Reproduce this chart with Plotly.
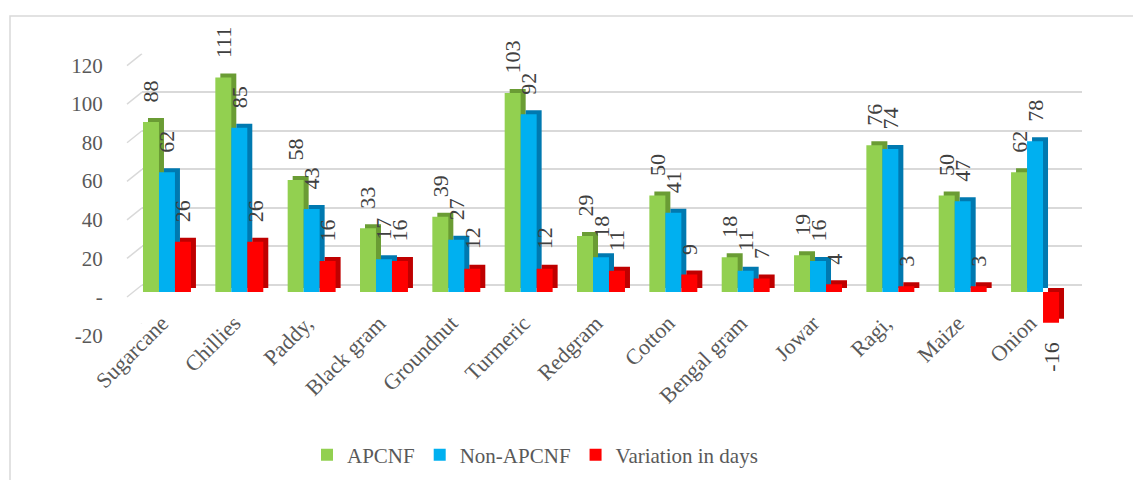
import plotly.graph_objects as go

# ---------------- data ----------------
categories = ["Sugarcane", "Chillies", "Paddy,", "Black gram", "Groundnut", "Turmeric",
              "Redgram", "Cotton", "Bengal gram", "Jowar", "Ragi,", "Maize", "Onion"]
apcnf = [88, 111, 58, 33, 39, 103, 29, 50, 18, 19, 76, 50, 62]
non_apcnf = [62, 85, 43, 17, 27, 92, 18, 41, 11, 16, 74, 47, 78]
variation = [26, 26, 16, 16, 12, 12, 11, 9, 7, 4, 3, 3, -16]
y_tick_vals = [-20, 0, 20, 40, 60, 80, 100, 120]
y_tick_text = ["-20", "-", "20", "40", "60", "80", "100", "120"]
series_names = ["APCNF", "Non-APCNF", "Variation in days"]

# ---------------- style ----------------
W, H = 1133, 480
front_col = ["#92D050", "#00B0F0", "#FF0000"]
depth_col = ["#6a9c34", "#0079b0", "#bf0000"]
FONT = "Liberation Serif"
TXT = "#595959"
GRID = "#d9d9d9"

x_range = [-0.5, len(categories) - 0.5]
y_range = [-20, 120]
# front (bars) plot area in pixels
fx0, fx1 = 130.8, 1071.2
fy_top, fy_bot = 60.2, 330.6
# back wall (gridlines) plot area in pixels
bx0, bx1 = 142.0, 1082.0
by_top, by_bot = 53.6, 323.6

px_per_cat = (fx1 - fx0) / (x_range[1] - x_range[0])
px_per_unit = (fy_bot - fy_top) / (y_range[1] - y_range[0])
depth_dx = 5 / px_per_cat      # side-face depth in category units
depth_dy = 4 / px_per_unit     # top-face depth in value units

bw = 0.221
offsets = [-1.5 * bw, -0.5 * bw, 0.5 * bw]
PAD = "\u00a0\u00a0\u00a0"


def label(v):
    return PAD + str(v) if v >= 0 else str(v) + PAD


fig = go.Figure()

# invisible trace on the grid (back wall) subplot
fig.add_trace(go.Scatter(x=[0], y=[0], mode="markers", marker=dict(opacity=0),
                         showlegend=False, hoverinfo="skip", xaxis="x", yaxis="y"))

xs = list(range(len(categories)))
all_series = [apcnf, non_apcnf, variation]
for k, vals in enumerate(all_series):
    # depth face (shifted back rectangle)
    fig.add_trace(go.Bar(
        x=[i + depth_dx for i in xs], y=vals, base=depth_dy,
        width=bw, offset=offsets[k], marker=dict(color=depth_col[k], line=dict(width=0)),
        showlegend=False, hoverinfo="skip", xaxis="x2", yaxis="y2"))
    # front face with data labels
    fig.add_trace(go.Bar(
        x=xs, y=vals, name=series_names[k],
        width=bw, offset=offsets[k], marker=dict(color=front_col[k], line=dict(width=0)),
        text=[label(v) for v in vals], textposition="outside", textangle=-90,
        constraintext="none", cliponaxis=False,
        textfont=dict(family=FONT, size=22, color="#404040"),
        xaxis="x2", yaxis="y2"))

# shapes: outer border and the left diagonal gridline stubs
shapes = [dict(type="rect", xref="paper", yref="paper", x0=10 / W, x1=1.2,
               y0=-0.2, y1=1 - 16 / H, line=dict(color=GRID, width=1.5), layer="below")]
for v in y_tick_vals:
    shapes.append(dict(type="line", xref="paper", yref="y", ysizemode="pixel", yanchor=v,
                       x0=127 / W, x1=bx0 / W, y0=-12, y1=0,
                       line=dict(color=GRID, width=1.5), layer="below"))

fig.update_layout(
    template="none",
    width=W, height=H,
    margin=dict(l=0, r=0, t=0, b=0),
    paper_bgcolor="white", plot_bgcolor="rgba(0,0,0,0)",
    barmode="overlay",
    font=dict(family=FONT, size=21, color=TXT),
    xaxis=dict(domain=[bx0 / W, bx1 / W], range=x_range, showgrid=False, zeroline=False,
               showticklabels=False, showline=False, ticks="", fixedrange=True),
    yaxis=dict(domain=[1 - by_bot / H, 1 - by_top / H], range=y_range, showgrid=True,
               gridcolor=GRID, gridwidth=1.5, tickvals=y_tick_vals, zeroline=False,
               showticklabels=False, showline=False, ticks="", fixedrange=True),
    xaxis2=dict(domain=[fx0 / W, fx1 / W], range=x_range, anchor="free",
                position=1 - 305 / H, tickvals=xs, ticktext=categories, tickangle=-45,
                showgrid=False, zeroline=False, showline=False, ticks="",
                ticklabelshift=-5, fixedrange=True,
                tickfont=dict(family=FONT, size=22, color=TXT)),
    yaxis2=dict(domain=[1 - fy_bot / H, 1 - fy_top / H], range=y_range, anchor="x2",
                tickvals=y_tick_vals, ticktext=y_tick_text, showgrid=False, zeroline=False,
                showline=False, ticks="", ticklabelstandoff=27, ticklabelshift=5,
                fixedrange=True, tickfont=dict(family=FONT, size=21, color=TXT)),
    legend=dict(orientation="h", x=535 / W, xanchor="center", y=1 - 455 / H, yanchor="middle",
                font=dict(family=FONT, size=21, color=TXT), bgcolor="rgba(0,0,0,0)",
                itemclick=False),
    shapes=shapes,
    showlegend=True,
)

fig.write_html("out.html", config={"displayModeBar": False},
               post_script="document.body.style.margin='0';")
